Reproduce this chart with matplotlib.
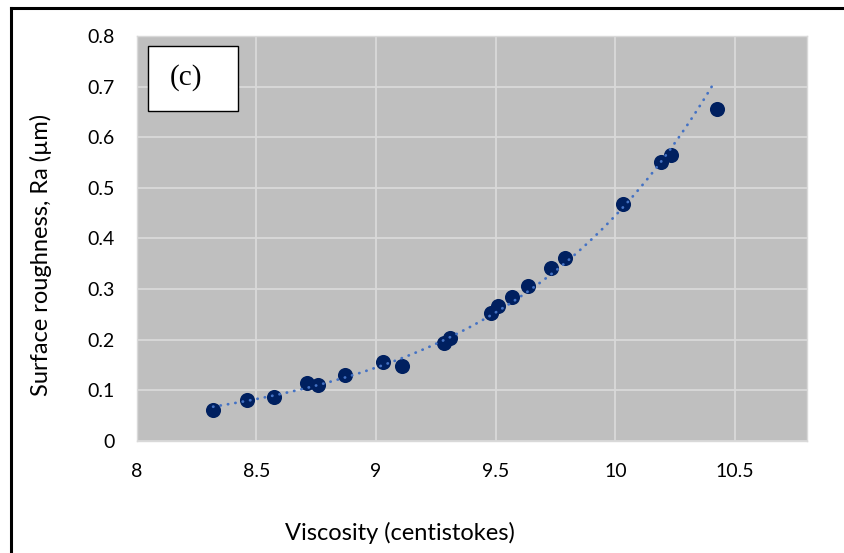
import matplotlib
matplotlib.use("Agg")
import matplotlib.pyplot as plt
import numpy as np
from matplotlib.lines import Line2D
from matplotlib.patches import Rectangle

# --- DATA ---
viscosity = [8.32, 8.46, 8.575, 8.71, 8.76, 8.87, 9.03, 9.11, 9.285, 9.31,
             9.48, 9.51, 9.57, 9.635, 9.73, 9.79, 10.03, 10.19, 10.23, 10.425]
roughness = [0.061, 0.080, 0.086, 0.115, 0.110, 0.129, 0.155, 0.148, 0.193, 0.203,
             0.252, 0.266, 0.285, 0.305, 0.341, 0.362, 0.468, 0.551, 0.564, 0.656]
x_ticks = [8, 8.5, 9, 9.5, 10, 10.5]
y_ticks = [0, 0.1, 0.2, 0.3, 0.4, 0.5, 0.6, 0.7, 0.8]
x_tick_labels = ["8", "8.5", "9", "9.5", "10", "10.5"]
y_tick_labels = ["0", "0.1", "0.2", "0.3", "0.4", "0.5", "0.6", "0.7", "0.8"]

FONT = "Lato"

fig = plt.figure(figsize=(8.44, 5.53), dpi=100)
W, H = 844, 553
ax = fig.add_axes([136.5 / W, 1 - 440.7 / H, (807 - 136.5) / W, (440.7 - 36) / H])
ax.set_facecolor("#BFBFBF")

# exponential trendline (least squares on log y, like Excel)
x = np.array(viscosity)
y = np.array(roughness)
b, lna = np.polyfit(x, np.log(y), 1)
xt = np.linspace(x.min(), 10.41, 200)
ax.plot(xt, np.exp(lna) * np.exp(b * xt), color="#4472C4", lw=2.0,
        linestyle=(0, (0.1, 2.6)), dash_capstyle="round", zorder=3)

ax.scatter(viscosity, roughness, s=118, color="#002060", zorder=2, linewidths=0)

ax.set_xlim(8, 10.8)
ax.set_ylim(0, 0.8)
ax.set_xticks(x_ticks)
ax.set_xticklabels(x_tick_labels)
ax.set_yticks(y_ticks)
ax.set_yticklabels(y_tick_labels)
ax.grid(True, color="#D9D9D9", lw=1.3)
ax.set_axisbelow(True)
ax.tick_params(length=0, labelsize=14)
ax.tick_params(axis="x", pad=16)
ax.tick_params(axis="y", pad=16)
for lab in ax.get_xticklabels() + ax.get_yticklabels():
    lab.set_fontfamily(FONT)
for sp in ax.spines.values():
    sp.set_color("#D9D9D9")
    sp.set_linewidth(1)

ax.set_xlabel("Viscosity (centistokes)", fontsize=17, fontfamily=FONT, va="center")
ax.xaxis.set_label_coords(400 / W, 1 - 533 / H, transform=fig.transFigure)
ax.set_ylabel("Surface roughness, Ra (\u00b5m)", fontsize=17, fontfamily=FONT, va="center")
ax.yaxis.set_label_coords(41 / W, 1 - 255 / H, transform=fig.transFigure)

# (c) label box
ax.add_patch(Rectangle((148 / W, 1 - 111 / H), 90 / W, 65 / H, transform=fig.transFigure,
                       facecolor="white", edgecolor="black", lw=1.0, zorder=5))
fig.text(186 / W, 1 - 78 / H, "(c)", fontsize=21, fontfamily="Liberation Serif",
         ha="center", va="center", zorder=6)

# outer frame (left and top only)
fig.add_artist(Line2D([10.5 / W, 10.5 / W], [0, 1 - 8 / H], color="black", lw=2.2,
                      transform=fig.transFigure))
fig.add_artist(Line2D([10.5 / W, 1], [1 - 8 / H, 1 - 8 / H], color="black", lw=2.2,
                      transform=fig.transFigure))

fig.savefig("out.png", dpi=100)
